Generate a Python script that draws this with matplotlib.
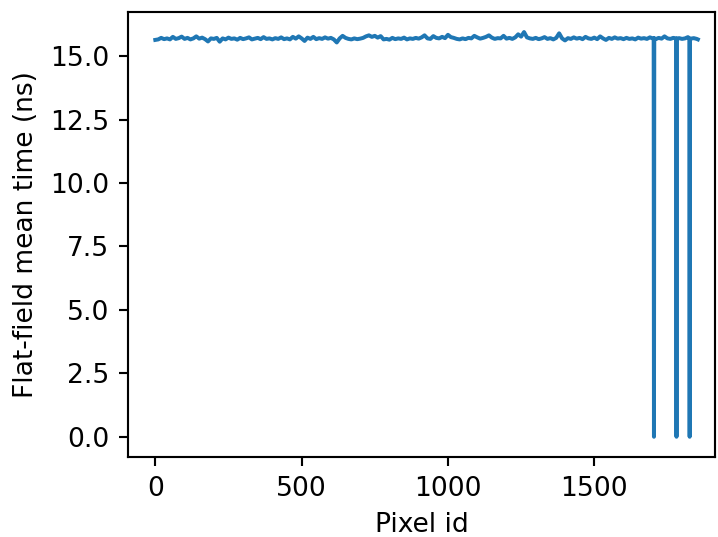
import numpy as np
import matplotlib
matplotlib.use('Agg')
import matplotlib.pyplot as plt

# tempo medio flat-field, um valor a cada 10 pixels (0..1850)
pixel_id = np.arange(0, 1860, 10)
mean_time = [
    15.64, 15.66, 15.72, 15.67, 15.70, 15.66, 15.76, 15.68, 15.71, 15.77,
    15.68, 15.72, 15.66, 15.70, 15.78, 15.69, 15.73, 15.67, 15.58, 15.70,
    15.68, 15.72, 15.57, 15.70, 15.66, 15.73, 15.68, 15.70, 15.65, 15.72,
    15.67, 15.70, 15.74, 15.66, 15.69, 15.72, 15.67, 15.75, 15.68, 15.70,
    15.66, 15.71, 15.68, 15.74, 15.67, 15.70, 15.66, 15.76, 15.69, 15.78,
    15.70, 15.60, 15.73, 15.68, 15.76, 15.67, 15.71, 15.68, 15.74, 15.69,
    15.72, 15.66, 15.54, 15.70, 15.80, 15.72, 15.68, 15.66, 15.70, 15.67,
    15.69, 15.72, 15.78, 15.82, 15.76, 15.80, 15.73, 15.79, 15.66, 15.68,
    15.65, 15.72, 15.67, 15.70, 15.68, 15.73, 15.66, 15.70, 15.68, 15.72,
    15.69, 15.74, 15.82, 15.70, 15.68, 15.79, 15.72, 15.70, 15.76, 15.71,
    15.84, 15.75, 15.72, 15.68, 15.66, 15.70, 15.67, 15.72, 15.70, 15.80,
    15.74, 15.69, 15.72, 15.76, 15.82, 15.73, 15.68, 15.71, 15.70, 15.80,
    15.69, 15.72, 15.68, 15.74, 15.86, 15.77, 15.95, 15.74, 15.70, 15.68,
    15.72, 15.67, 15.70, 15.75, 15.68, 15.71, 15.66, 15.72, 15.90, 15.70,
    15.62, 15.71, 15.68, 15.74, 15.69, 15.72, 15.67, 15.76, 15.70, 15.68,
    15.73, 15.67, 15.78, 15.70, 15.64, 15.72, 15.68, 15.74, 15.69, 15.71,
    15.67, 15.72, 15.68, 15.70, 15.66, 15.73, 15.69, 15.71, 15.68, 15.74,
    15.70, 15.67, 15.72, 15.69, 15.78, 15.70, 15.68, 15.72, 15.69, 15.71,
    15.68, 15.70, 15.75, 15.69, 15.71, 15.68,
]

# pixels mortos (tempo = 0) e seus vizinhos, mais o ultimo pixel
extra_ids = [1703, 1704, 1705, 1780, 1781, 1782, 1825, 1826, 1827, 1854]
extra_vals = [15.70, 0.0, 15.71, 15.70, 0.0, 15.69, 15.70, 0.0, 15.68, 15.66]

x = np.concatenate([pixel_id, extra_ids])
y = np.concatenate([mean_time, extra_vals])
ordem = np.argsort(x)
x = x[ordem]
y = y[ordem]

dpi = 191
fig = plt.figure(figsize=(718 / dpi, 537 / dpi), dpi=dpi)
ax = fig.add_subplot(111)
fig.subplots_adjust(left=0.178, right=0.996, bottom=0.149, top=0.978)

ax.plot(x, y, color='#1f77b4', linewidth=1.5)
ax.set_xlim(-94, 1913)

ax.set_xlabel('Pixel id')
ax.set_ylabel('Flat-field mean time (ns)')

fig.savefig('out.png', dpi=dpi)
